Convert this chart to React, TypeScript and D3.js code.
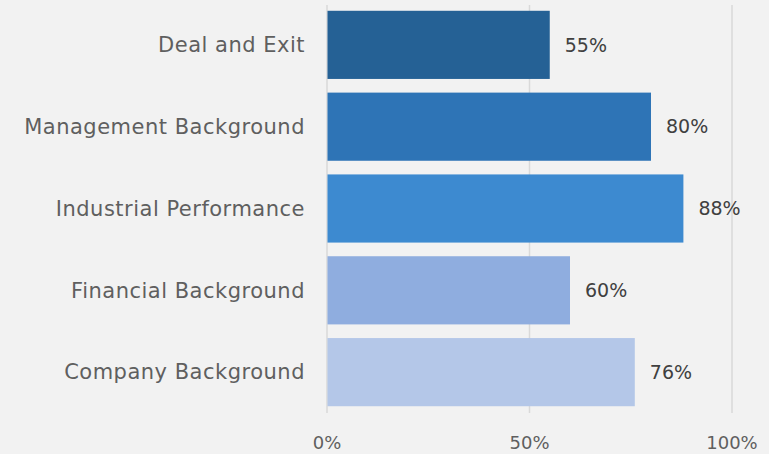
import React from "react";
import * as d3 from "d3";

const categories = ["Deal and Exit", "Management Background", "Industrial Performance", "Financial Background", "Company Background"];
const values = [0.55, 0.8, 0.88, 0.6, 0.76];
const colors = ["#256195", "#2E74B6", "#3D8AD0", "#8FADDF", "#B4C7E8"];
const ticks = [0, 0.5, 1];

const W = 769, H = 454;
const FONT = "'DejaVu Sans', sans-serif";

export default function App() {
  const x = d3.scaleLinear().domain([0, 1]).range([327, 732]);
  const y = d3.scaleBand<string>().domain(categories).range([4, 413]).paddingInner(0.167).paddingOuter(0.083);
  const fmt = d3.format(".0%");
  return (
    <svg width={W} height={H} style={{ position: "absolute", left: 0, top: 0 }}>
      <rect x={0} y={0} width={W} height={H} fill="#F2F2F2" />
      {ticks.map((t) => (
        <line key={"g" + t} x1={x(t)} x2={x(t)} y1={5} y2={413} stroke="#D9D9D9" strokeWidth={1.5} />
      ))}
      {categories.map((c, i) => (
        <g key={c}>
          <rect x={x(0) + 0.5} y={y(c)} width={x(values[i]) - x(0) - 0.5} height={y.bandwidth()} fill={colors[i]} />
          <text x={305} y={(y(c) as number) + y.bandwidth() / 2} dy="0.35em" textAnchor="end" fontFamily={FONT} fontSize={21} letterSpacing={0.5} fill="#5F5F5F">{c}</text>
          <text x={x(values[i]) + 15} y={(y(c) as number) + y.bandwidth() / 2} dy="0.35em" fontFamily={FONT} fontSize={19} fill="#404040">{fmt(values[i])}</text>
        </g>
      ))}
      {ticks.map((t) => (
        <text key={"t" + t} x={x(t)} y={443} dy="0.35em" textAnchor="middle" fontFamily={FONT} fontSize={18} fill="#5F5F5F">{fmt(t)}</text>
      ))}
    </svg>
  );
}
